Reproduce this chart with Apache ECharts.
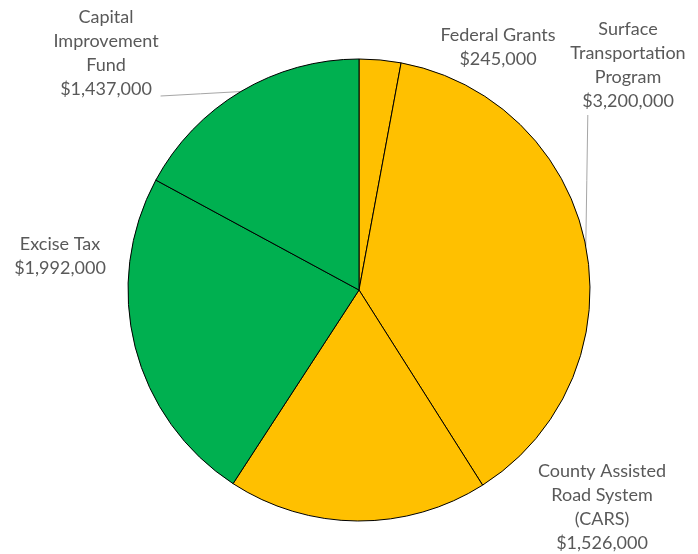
<!DOCTYPE html>
<html>
<head>
<meta charset="utf-8">
<script src="https://cdn.jsdelivr.net/npm/echarts@6/dist/echarts.min.js"></script>
<style>html,body{margin:0;padding:0;background:#fff;}#c{width:698px;height:554px;}</style>
</head>
<body>
<div id="c"></div>
<script>
const categories = ["Federal Grants", "Surface\nTransportation\nProgram", "County Assisted\nRoad System\n(CARS)", "Excise Tax", "Capital\nImprovement\nFund"];
const values = [245000, 3200000, 1526000, 1992000, 1437000];
const colors = ["#FFC000", "#FFC000", "#FFC000", "#00B050", "#00B050"];
const showLine = [false, true, false, false, true];

// label anchor positions (layout only)
const labelPos = [[498, 47], [628, 65], [602, 507], [60, 256], [106, 53]];

const chart = echarts.init(document.getElementById('c'), null, {renderer: 'canvas'});
function fmt(v) { return '$' + v.toLocaleString('en-US'); }
chart.setOption({
  animation: false,
  backgroundColor: '#fff',
  series: [{
    type: 'pie',
    center: [359, 290],
    radius: 231,
    startAngle: 90,
    clockwise: true,
    data: categories.map((c, i) => ({
      name: c, value: values[i],
      itemStyle: {color: colors[i]},
      labelLine: {show: showLine[i]}
    })),
    itemStyle: {borderColor: '#000', borderWidth: 1},
    label: {
      show: true,
      position: 'outside',
      overflow: 'none',
      formatter: p => p.name + '\n' + fmt(p.value),
      color: '#595959',
      fontFamily: 'Lato',
      fontSize: 18,
      lineHeight: 24,
      align: 'center'
    },
    labelLine: {lineStyle: {color: '#A6A6A6', width: 1}, length: 10, length2: 10},
    labelLayout: function (params) {
      const i = params.dataIndex;
      const [x, y] = labelPos[i];
      const out = {x: x, y: y, align: 'center', verticalAlign: 'middle', hideOverlap: false, moveOverlap: false};
      if (showLine[i] && params.labelLinePoints) {
        const s = params.labelLinePoints[0];
        const w = params.labelRect.width, h = params.labelRect.height;
        let e;
        if (i === 4) e = [x + w / 2 + 2, y + h / 2 - 5];
        else e = [s[0] + 2, y + h / 2 + 2];
        out.labelLinePoints = [s, [(s[0] + e[0]) / 2, (s[1] + e[1]) / 2], e];
      }
      return out;
    }
  }]
});
</script>
</body>
</html>
